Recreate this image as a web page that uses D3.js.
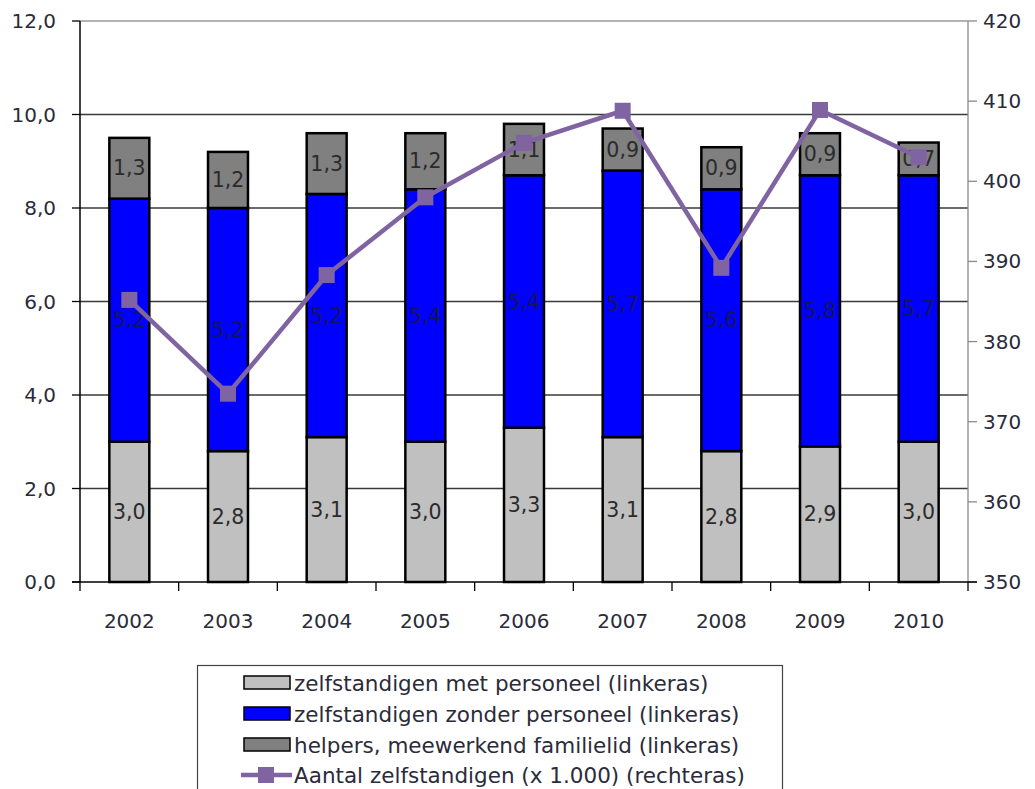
<!DOCTYPE html>
<html><head><meta charset="utf-8">
<script src="https://cdn.jsdelivr.net/npm/d3@7"></script>
<style>
body{margin:0;background:#fff;}
svg text{font-family:"DejaVu Sans",Verdana,sans-serif;fill:#2b2b3a;}
</style></head>
<body><svg id="c" width="1035" height="789"></svg>
<script>
const years = ["2002","2003","2004","2005","2006","2007","2008","2009","2010"];
const metPersoneel = [3.0,2.8,3.1,3.0,3.3,3.1,2.8,2.9,3.0];
const zonderPersoneel = [5.2,5.2,5.2,5.4,5.4,5.7,5.6,5.8,5.7];
const helpers = [1.3,1.2,1.3,1.2,1.1,0.9,0.9,0.9,0.7];
const aantal = [385.2,373.5,388.3,398.0,404.8,408.8,389.2,408.9,403.0];
const leftTicks = [0,2,4,6,8,10,12];
const rightTicks = [350,360,370,380,390,400,410,420];
const seriesNames = ["zelfstandigen met personeel (linkeras)","zelfstandigen zonder personeel (linkeras)","helpers, meewerkend familielid (linkeras)","Aantal zelfstandigen (x 1.000) (rechteras)"];
const colors = ["#c0c0c0","#0000ff","#808080","#8064a2"];

const svg = d3.select("#c");
const L=80, R=968, T=21, B=582;
const x = d3.scaleBand().domain(years).range([L,R]).paddingInner(0.595).paddingOuter(0.2975);
const xc = d3.scaleBand().domain(years).range([L,R]);
const yL = d3.scaleLinear().domain([0,12]).range([B,T]);
const yR = d3.scaleLinear().domain([350,420]).range([B,T]);
const fmt = v => d3.format(".1f")(v).replace(".",",");

// gridlines
svg.append("g").selectAll("line").data(leftTicks.filter(d=>d>0)).join("line")
  .attr("x1",L).attr("x2",R).attr("y1",d=>yL(d)).attr("y2",d=>yL(d))
  .attr("stroke",d=>d===12?"#9a9a9a":"#3a3a3a").attr("stroke-width",1.3);

// stacked bars
const rows = years.map((y,i)=>({year:y, met:metPersoneel[i], zonder:zonderPersoneel[i], help:helpers[i]}));
const stack = d3.stack().keys(["met","zonder","help"])(rows);
const g = svg.append("g");
stack.forEach((s,si)=>{
  g.selectAll(null).data(s).join("rect")
    .attr("x",d=>x(d.data.year)).attr("width",x.bandwidth())
    .attr("y",d=>yL(d[1])).attr("height",d=>yL(d[0])-yL(d[1]))
    .attr("fill",colors[si]).attr("stroke","#000").attr("stroke-width",2.5);
});
stack.forEach((s,si)=>{
  g.selectAll(null).data(s).join("text")
    .attr("x",d=>x(d.data.year)+x.bandwidth()/2)
    .attr("y",d=>yL((d[0]+d[1])/2)+7)
    .attr("text-anchor","middle").attr("font-size",20.5)
    .style("fill",si===1?"#14145a":"#2b2b2b")
    .text(d=>fmt(d[1]-d[0]));
});

// axes
const axL = svg.append("g");
axL.append("line").attr("x1",L).attr("x2",L).attr("y1",T).attr("y2",B).attr("stroke","#000").attr("stroke-width",1.5);
axL.selectAll("line.t").data(leftTicks).join("line").attr("class","t")
  .attr("x1",L-8).attr("x2",L).attr("y1",d=>yL(d)).attr("y2",d=>yL(d)).attr("stroke","#000").attr("stroke-width",1.3);
axL.selectAll("text").data(leftTicks).join("text")
  .attr("x",56).attr("y",d=>yL(d)+7).attr("text-anchor","end").attr("font-size",20).text(d=>fmt(d));

const axR = svg.append("g");
axR.append("line").attr("x1",R).attr("x2",R).attr("y1",T).attr("y2",B).attr("stroke","#8a8a8a").attr("stroke-width",1.3);
axR.selectAll("line.t").data(rightTicks).join("line").attr("class","t")
  .attr("x1",R).attr("x2",R+9).attr("y1",d=>yR(d)).attr("y2",d=>yR(d)).attr("stroke","#8a8a8a").attr("stroke-width",1.3);
axR.selectAll("text").data(rightTicks).join("text")
  .attr("x",983).attr("y",d=>yR(d)+7).attr("text-anchor","start").attr("font-size",20).text(d=>d);

const axB = svg.append("g");
axB.append("line").attr("x1",L-8).attr("x2",R+9).attr("y1",B).attr("y2",B).attr("stroke","#000").attr("stroke-width",1.5);
const bTicks = years.map(y=>xc(y)).concat([R]);
axB.selectAll("line.t").data(bTicks).join("line").attr("class","t")
  .attr("x1",d=>d).attr("x2",d=>d).attr("y1",B).attr("y2",B+9).attr("stroke","#000").attr("stroke-width",1.3);
axB.selectAll("text").data(years).join("text")
  .attr("x",d=>xc(d)+xc.bandwidth()/2).attr("y",628).attr("text-anchor","middle").attr("font-size",20).text(d=>d);

// line series
const pts = years.map((y,i)=>[xc(y)+xc.bandwidth()/2, yR(aantal[i])]);
svg.append("path").attr("d",d3.line()(pts)).attr("fill","none").attr("stroke",colors[3]).attr("stroke-width",4.5).attr("stroke-linejoin","round");
svg.append("g").selectAll("rect").data(pts).join("rect")
  .attr("x",d=>d[0]-8).attr("y",d=>d[1]-8).attr("width",16).attr("height",16).attr("fill",colors[3]);

// legend
const lg = svg.append("g");
lg.append("rect").attr("x",197.5).attr("y",665.5).attr("width",585).attr("height",135).attr("fill","#fff").attr("stroke","#444").attr("stroke-width",1.2);
const ly = [683,714,745,775];
[0,1,2].forEach(i=>{
  lg.append("rect").attr("x",244).attr("y",ly[i]-7).attr("width",46).attr("height",13)
    .attr("fill",colors[i]).attr("stroke","#000").attr("stroke-width",1.5);
});
lg.append("line").attr("x1",241).attr("x2",292).attr("y1",ly[3]).attr("y2",ly[3]).attr("stroke",colors[3]).attr("stroke-width",4.5);
lg.append("rect").attr("x",258).attr("y",ly[3]-8).attr("width",16).attr("height",16).attr("fill",colors[3]);
lg.selectAll("text").data(seriesNames).join("text")
  .attr("x",294).attr("y",(d,i)=>ly[i]+8).attr("font-size",21.5).text(d=>d);
</script></body></html>
